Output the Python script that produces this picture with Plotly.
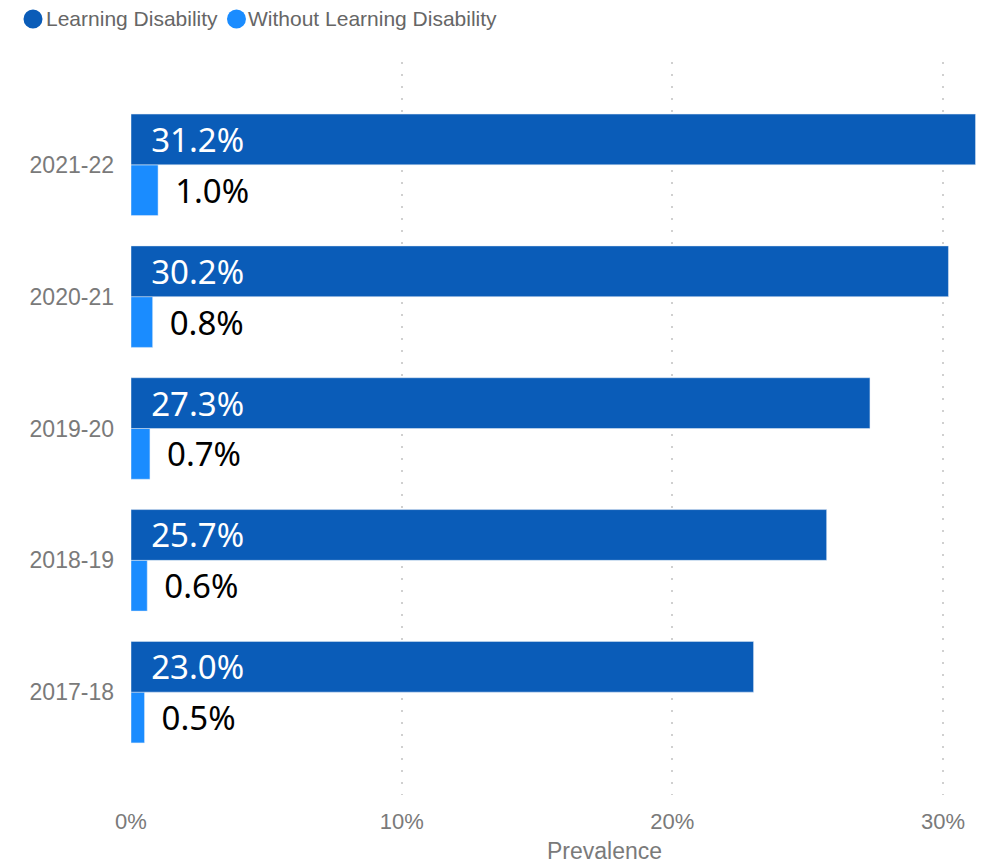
"""Prevalence of learning disability, grouped horizontal bars."""

import plotly.graph_objects as go

YEARS = ["2017-18", "2018-19", "2019-20", "2020-21", "2021-22"]
LD_VALUES = [23.0, 25.7, 27.3, 30.2, 31.2]
NON_LD_VALUES = [0.5, 0.6, 0.7, 0.8, 1.0]
SERIES_NAMES = ["Learning Disability", "Without Learning Disability"]
X_TICKS = [0, 10, 20, 30]
X_TICK_LABELS = ["0%", "10%", "20%", "30%"]
X_TITLE = "Prevalence"

DARK = "#0A5CB8"
LIGHT = "#1A8CFF"
GREY = "#7A7A7A"
LABEL_FONT = "Noto Sans"
AXIS_FONT = "Liberation Sans"

fig = go.Figure()

# Lower bar in each group (light)
fig.add_trace(go.Bar(
    y=YEARS,
    x=NON_LD_VALUES,
    orientation="h",
    marker={"color": LIGHT},
    text=[f"{v:.1f}%" for v in NON_LD_VALUES],
    texttemplate="\u00a0\u2009%{text}",
    textposition="outside",
    constraintext="none",
    cliponaxis=False,
    textfont={"family": LABEL_FONT, "size": 33, "color": "black"},
    name=SERIES_NAMES[1],
    showlegend=False,
))

# Upper bar in each group (dark)
fig.add_trace(go.Bar(
    y=YEARS,
    x=LD_VALUES,
    orientation="h",
    marker={"color": DARK},
    text=[f"{v:.1f}%" for v in LD_VALUES],
    texttemplate="\u00a0\u00a0%{text}",
    textposition="inside",
    insidetextanchor="start",
    constraintext="none",
    textfont={"family": LABEL_FONT, "size": 33, "color": "white"},
    name=SERIES_NAMES[0],
    showlegend=False,
))

# Compact legend: round swatch right against the label, as in the source
LEGEND_Y = 1.0587
legend_items = [
    (SERIES_NAMES[0], DARK, -0.11475, -0.1019),
    (SERIES_NAMES[1], LIGHT, 0.1235, 0.1347),
]
for name, color, dot_x, text_x in legend_items:
    fig.add_shape(
        type="circle",
        xref="paper", yref="paper",
        xsizemode="pixel", ysizemode="pixel",
        xanchor=dot_x, yanchor=LEGEND_Y,
        x0=-9.5, x1=9.5, y0=-9.5, y1=9.5,
        fillcolor=color,
        line={"width": 0},
    )
    fig.add_annotation(
        xref="paper", yref="paper",
        x=text_x, y=LEGEND_Y,
        xanchor="left", yanchor="middle",
        showarrow=False,
        text=name,
        font={"family": AXIS_FONT, "size": 21, "color": "#666666"},
    )

# Axis title sits right of centre in the source
fig.add_annotation(
    xref="paper", yref="paper",
    x=0.5539, y=-0.0766,
    xanchor="center", yanchor="middle",
    showarrow=False,
    text=X_TITLE,
    font={"family": AXIS_FONT, "size": 23, "color": GREY},
)

fig.update_layout(
    width=984,
    height=856,
    paper_bgcolor="white",
    plot_bgcolor="white",
    barmode="group",
    bargap=0.23,
    bargroupgap=0,
    margin={"l": 123, "r": 7, "t": 54, "b": 69},
    font={"family": AXIS_FONT, "color": GREY},
    showlegend=False,
)

fig.update_xaxes(
    range=[0, 31.55],
    tickvals=X_TICKS,
    ticktext=X_TICK_LABELS,
    tickfont={"size": 22, "color": GREY},
    showgrid=True,
    gridcolor="#D0D0D0",
    griddash="2px,10px",
    gridwidth=2,
    zeroline=False,
    showline=False,
    ticks="",
    ticklabelstandoff=11,
)

fig.update_yaxes(
    categoryorder="array",
    categoryarray=YEARS,
    range=[-0.78, 4.78],
    tickfont={"size": 23, "color": GREY},
    showgrid=False,
    zeroline=False,
    showline=False,
    ticks="",
    ticklabelstandoff=16,
)

fig.write_html("out.html")
